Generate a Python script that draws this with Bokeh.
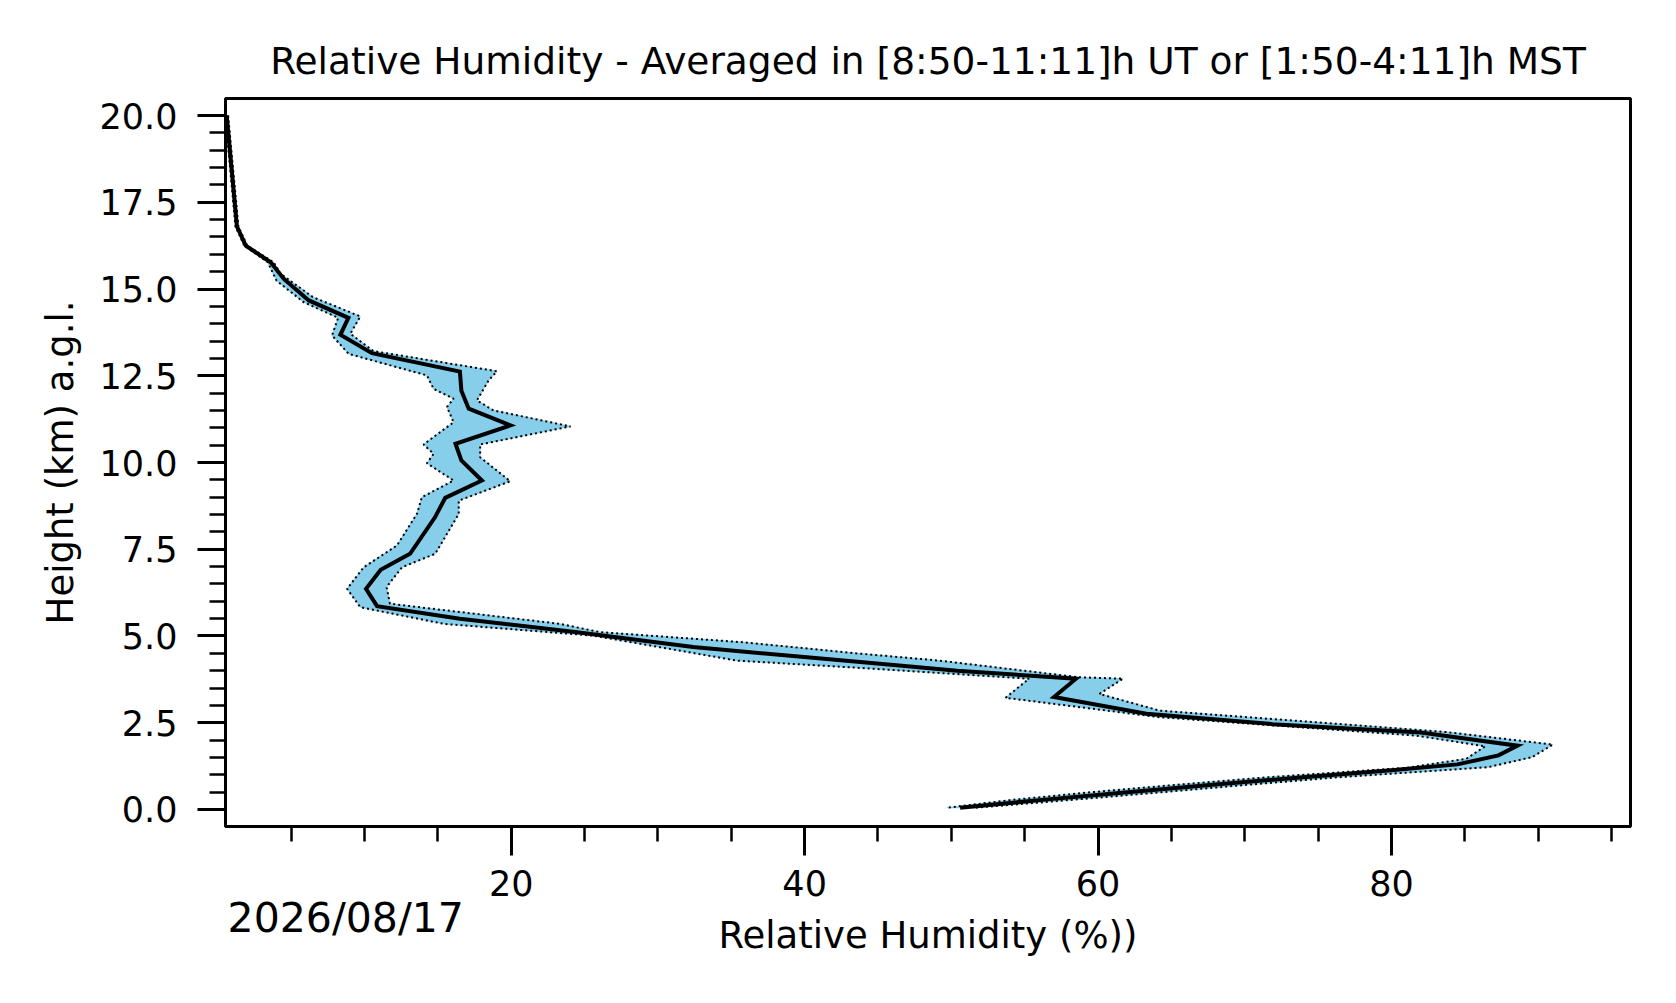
from bokeh.plotting import figure
from bokeh.models import Range1d, FixedTicker, PrintfTickFormatter, Label
from bokeh.embed import file_html
from bokeh.resources import INLINE

# ---- data ----
height_mean = [20.0, 16.8, 16.25, 15.77, 15.29, 14.67, 14.17, 13.68, 13.15, 12.62,
               12.07, 11.55, 11.07, 10.54, 10.06, 9.48, 8.98, 8.42, 7.37, 6.91,
               6.36, 5.86, 5.5, 5.11, 4.68, 4.25, 4.0, 3.77, 3.24, 2.76,
               2.46, 2.22, 1.84, 1.56, 1.3, 1.13, 0.93, 0.72, 0.5, 0.27, 0.05]
rh_mean = [0.6, 1.3, 1.9, 3.6, 4.5, 6.2, 8.9, 8.35, 10.5, 16.5,
           16.6, 17.1, 19.95, 16.2, 16.6, 18.0, 15.5, 14.8, 13.1, 11.1,
           10.1, 10.85, 16.5, 24.5, 32.4, 43.8, 50.4, 58.5, 57.0, 63.3,
           71.9, 82.0, 88.6, 87.3, 84.5, 80.0, 74.0, 68.0, 62.0, 56.0, 50.6]

height_lo = [20.0, 16.8, 16.25, 15.77, 15.24, 14.62, 14.17, 13.66, 13.13, 12.51,
             12.12, 11.84, 11.6, 11.16, 10.52, 10.25, 9.98, 9.48, 9.0, 8.52,
             7.61, 6.98, 6.36, 5.83, 5.35, 5.01, 4.29, 4.08, 3.77, 3.22,
             2.66, 2.13, 1.82, 1.46, 1.2, 0.93, 0.72, 0.5, 0.27, 0.05]
rh_lo = [0.5, 1.2, 1.8, 3.4, 4.0, 5.85, 8.2, 7.78, 8.92, 14.25,
         14.71, 16.07, 15.62, 16.07, 14.02, 14.71, 14.25, 16.07, 13.91, 13.57,
         12.21, 9.94, 8.81, 9.71, 15.4, 25.6, 35.4, 43.8, 55.3, 53.7,
         64.2, 81.7, 86.4, 85.1, 81.0, 71.6, 65.6, 59.6, 54.0, 49.7]

height_hi = [20.0, 16.8, 16.25, 15.77, 15.44, 14.76, 14.21, 13.71, 13.21, 12.63,
             12.36, 11.79, 11.5, 11.04, 10.52, 10.15, 9.46, 8.9, 8.52, 7.37,
             6.98, 6.41, 5.93, 5.35, 5.11, 4.82, 4.49, 4.29, 3.81, 3.77,
             3.33, 2.85, 2.23, 1.87, 1.51, 1.22, 0.93, 0.72, 0.5, 0.27, 0.05]
rh_hi = [0.7, 1.4, 2.0, 3.8, 4.27, 6.5, 9.71, 9.03, 10.6, 19.02,
         18.45, 17.66, 18.79, 24.04, 17.88, 17.88, 19.93, 16.42, 16.42, 14.82,
         12.55, 11.5, 11.73, 23.3, 26.06, 35.8, 43.8, 49.2, 58.7, 61.7,
         60.1, 64.2, 83.8, 91.0, 89.6, 86.6, 76.4, 70.4, 64.4, 58.0, 51.6]

x_major_ticks = [20, 40, 60, 80]
x_minor_ticks = [5, 10, 15, 20, 25, 30, 35, 40, 45, 50, 55, 60, 65, 70, 75, 80, 85, 90, 95]
y_major_ticks = [0.0, 2.5, 5.0, 7.5, 10.0, 12.5, 15.0, 17.5, 20.0]
y_minor_ticks = [i * 0.5 for i in range(41)]

title_text = "Relative Humidity - Averaged in [8:50-11:11]h UT or [1:50-4:11]h MST"
x_label = "Relative Humidity (%))"
y_label = "Height (km) a.g.l."
date_text = "2026/08/17"

FONT = "DejaVu Sans"

p = figure(frame_width=1405, frame_height=728,
           min_border_left=225, min_border_top=98, min_border_right=30, min_border_bottom=161,
           x_range=Range1d(0.52, 96.3), y_range=Range1d(-0.49, 20.49),
           output_backend="svg", toolbar_location=None)

p.grid.visible = False
p.background_fill_color = "white"
p.border_fill_color = "white"
p.outline_line_color = "black"
p.outline_line_width = 3
p.outline_line_alpha = 1.0

# spread band
p.patch(x=rh_lo + rh_hi[::-1], y=height_lo + height_hi[::-1],
        fill_color="#87CEEB", line_color="#87CEEB", line_width=1)
p.line(x=rh_lo, y=height_lo, line_color="black", line_width=2, line_dash="2 3")
p.line(x=rh_hi, y=height_hi, line_color="black", line_width=2, line_dash="2 3")
p.line(x=rh_mean, y=height_mean, line_color="black", line_width=4, line_join="miter")

# axes
for ax in (p.xaxis[0], p.yaxis[0]):
    ax.axis_line_width = 3
    ax.axis_line_color = "black"
    ax.major_tick_line_width = 3
    ax.minor_tick_line_width = 2.5
    ax.major_tick_in = 0
    ax.minor_tick_in = 0
    ax.major_label_text_font = FONT
    ax.major_label_text_font_size = "35px"
    ax.major_label_text_color = "black"
    ax.axis_label_text_font = FONT
    ax.axis_label_text_font_size = "37px"
    ax.axis_label_text_font_style = "normal"
    ax.axis_label_text_color = "black"

p.xaxis.ticker = FixedTicker(ticks=x_major_ticks, minor_ticks=x_minor_ticks)
p.yaxis.ticker = FixedTicker(ticks=y_major_ticks, minor_ticks=y_minor_ticks)
p.xaxis.formatter = PrintfTickFormatter(format="%d")
p.yaxis.formatter = PrintfTickFormatter(format="%.1f")
p.xaxis.major_tick_out = 29
p.xaxis.minor_tick_out = 15
p.yaxis.major_tick_out = 28
p.yaxis.minor_tick_out = 16
p.xaxis.major_label_standoff = 14
p.yaxis.major_label_standoff = 20
p.xaxis.axis_label = x_label
p.yaxis.axis_label = y_label
p.xaxis.axis_label_standoff = 15
p.yaxis.axis_label_standoff = 15

# texts outside the frame: placed in a side panel so they are not clipped
title = Label(x=48.41, y=21.58, text=title_text, text_align="center",
              text_baseline="alphabetic", text_font=FONT, text_font_size="37.5px",
              text_color="black")
p.add_layout(title, "above")

date_label = Label(x=0.66, y=-3.14, text=date_text, text_align="left",
                   text_baseline="alphabetic", text_font=FONT, text_font_size="41px",
                   text_color="black")
p.add_layout(date_label, "above")

open("out.html", "w").write(file_html(p, INLINE))
